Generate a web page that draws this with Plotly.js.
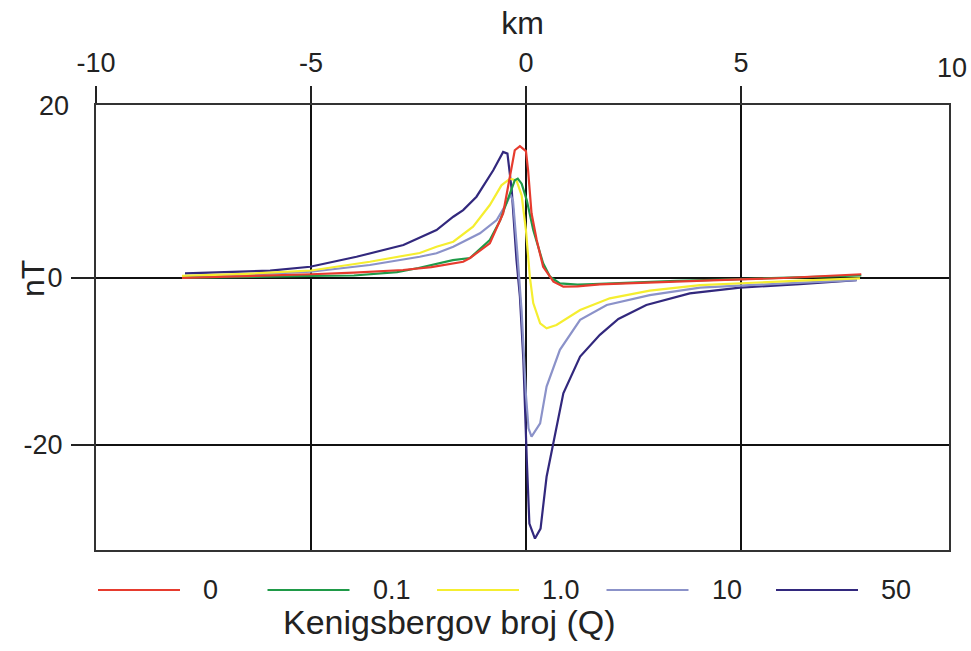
<!DOCTYPE html>
<html>
<head>
<meta charset="utf-8">
<script src="https://cdn.plot.ly/plotly-3.0.1.min.js"></script>
<style>html,body{margin:0;padding:0;background:#fff;}#chart{width:971px;height:651px;}</style>
</head>
<body>
<div id="chart"></div>
<script>
// Series: Kenigsbergov broj (Q)
const seriesNames = ['0', '0.1', '1.0', '10', '50'];
const seriesColors = ['#e63b2e', '#1f9a48', '#f5ee30', '#8b92c9', '#32287d'];

const xQ0 = [-8.0, -6.5, -5.0, -4.0, -2.86, -2.2, -1.93, -1.46, -1.3, -0.84, -0.53, -0.37, -0.26, -0.14, 0.0, 0.05, 0.13, 0.25, 0.40, 0.64, 0.87, 1.2, 1.72, 2.5, 3.5, 4.8, 6.0, 7.0, 7.8];
const yQ0 = [0.0, 0.2, 0.45, 0.65, 0.96, 1.3, 1.56, 1.95, 2.4, 4.15, 7.75, 12.5, 15.3, 15.8, 15.2, 12.9, 7.75, 4.55, 1.35, -0.44, -1.04, -1.0, -0.75, -0.6, -0.4, -0.2, 0.0, 0.25, 0.45];

const xQ01 = [-8.0, -6.5, -5.0, -4.0, -3.0, -2.5, -1.7, -1.3, -0.84, -0.6, -0.41, -0.26, -0.19, -0.1, 0.02, 0.17, 0.40, 0.56, 0.79, 1.2, 1.57, 2.5, 3.5, 4.8, 6.0, 7.0, 7.8];
const yQ01 = [0.0, 0.15, 0.25, 0.3, 0.7, 1.2, 2.15, 2.4, 4.55, 6.9, 9.7, 11.7, 11.9, 11.3, 9.3, 5.75, 1.76, 0.16, -0.64, -0.8, -0.72, -0.5, -0.35, -0.15, 0.0, 0.15, 0.3];

const xQ1 = [-8.0, -6.5, -5.0, -3.63, -2.47, -2.08, -1.69, -1.23, -0.84, -0.57, -0.37, -0.22, -0.1, 0.0, 0.09, 0.17, 0.33, 0.48, 0.71, 1.26, 1.95, 2.88, 4.05, 5.2, 6.37, 7.77];
const yQ1 = [0.25, 0.5, 0.9, 1.95, 3.0, 3.75, 4.35, 6.15, 8.74, 11.1, 11.9, 11.7, 9.9, 5.75, 0.16, -3.0, -5.43, -6.03, -5.63, -3.83, -2.43, -1.5, -0.84, -0.55, -0.32, -0.04];

const xQ10 = [-8.0, -6.5, -5.0, -3.63, -2.47, -2.08, -1.69, -1.30, -1.07, -0.68, -0.45, -0.36, -0.3, -0.2, -0.1, 0.0, 0.06, 0.13, 0.22, 0.33, 0.48, 0.79, 1.26, 1.88, 2.88, 4.05, 6.06, 7.69];
const yQ10 = [0.2, 0.4, 0.75, 1.56, 2.55, 2.96, 3.75, 4.75, 5.35, 6.95, 8.95, 10.0, 9.2, 3.0, -4.0, -14.0, -18.0, -19.0, -18.2, -17.4, -13.0, -8.6, -5.0, -3.23, -2.04, -1.14, -0.64, -0.24];

const xQ50 = [-7.93, -5.95, -5.02, -3.94, -2.85, -2.47, -2.08, -1.69, -1.46, -1.15, -0.76, -0.53, -0.43, -0.33, -0.22, -0.14, -0.06, 0.02, 0.08, 0.21, 0.34, 0.48, 0.87, 1.26, 1.72, 2.15, 2.8, 3.81, 4.98, 6.37, 7.69];
const yQ50 = [0.56, 0.88, 1.35, 2.55, 3.95, 4.85, 5.75, 7.34, 8.14, 9.74, 12.9, 15.1, 14.9, 10.5, 2.16, -2.24, -9.8, -21.8, -29.4, -31.2, -30.0, -23.8, -13.8, -9.4, -6.8, -4.9, -3.23, -1.84, -1.16, -0.72, -0.24];

const xTickVals = [-10, -5, 0, 5];
const xTickText = ['-10', '-5', '0', '5'];
const yTickVals = [-20, 0];
const yTickText = ['-20', '0'];
const xs = [xQ0, xQ01, xQ1, xQ10, xQ50];
const ys = [yQ0, yQ01, yQ1, yQ10, yQ50];

const FONT = '"Liberation Sans Narrow", "Arial Narrow", "Liberation Sans", Arial, sans-serif';

// draw order: 50 first, red on top
const order = [4, 3, 2, 1, 0];
const traces = order.map(i => ({
  type: 'scatter', mode: 'lines', name: seriesNames[i],
  x: xs[i], y: ys[i],
  line: {color: seriesColors[i], width: 2.2},
  showlegend: false, hoverinfo: 'skip'
}));

// custom legend (long line samples) below the plot
const plotL = 96, plotW = 853, plotT = 105, plotH = 445;
const px2paperX = p => (p - plotL) / plotW;
const px2paperY = p => (plotT + plotH - p) / plotH;
const shapes = [];
const annotations = [];
seriesNames.forEach((n, i) => {
  const x0 = 98 + i * 169.5;
  shapes.push({type: 'line', xref: 'paper', yref: 'paper',
    x0: px2paperX(x0), x1: px2paperX(x0 + 82), y0: px2paperY(590), y1: px2paperY(590),
    line: {color: seriesColors[i], width: 2.2}});
  annotations.push({xref: 'paper', yref: 'paper', x: px2paperX(x0 + 103), y: px2paperY(590),
    xanchor: 'left', yanchor: 'middle', showarrow: false, text: n,
    font: {family: FONT, size: 27, color: '#222'}});
});
annotations.push({xref: 'paper', yref: 'paper', x: px2paperX(449), y: px2paperY(622),
  xanchor: 'center', yanchor: 'middle', showarrow: false, text: 'Kenigsbergov broj (Q)',
  font: {family: FONT, size: 34, color: '#222'}});
// right-most top label, top-left y label, y title
annotations.push({xref: 'paper', yref: 'paper', x: px2paperX(952), y: px2paperY(68),
  xanchor: 'center', yanchor: 'middle', showarrow: false, text: '10',
  font: {family: FONT, size: 27, color: '#222'}});
annotations.push({xref: 'paper', yref: 'paper', x: px2paperX(71), y: px2paperY(106),
  xanchor: 'right', yanchor: 'middle', showarrow: false, text: '20',
  font: {family: FONT, size: 27, color: '#222'}});
annotations.push({xref: 'paper', yref: 'paper', x: px2paperX(33), y: px2paperY(279),
  xanchor: 'center', yanchor: 'middle', showarrow: false, text: 'nT', textangle: -90,
  font: {family: FONT, size: 32, color: '#222'}});

const layout = {
  width: 971, height: 651,
  margin: {l: 96, r: 22, t: 105, b: 101},
  paper_bgcolor: '#fff', plot_bgcolor: '#fff',
  showlegend: false,
  font: {family: FONT, color: '#222'},
  xaxis: {
    side: 'top', range: [-10, 9.84], tickvals: xTickVals, ticktext: xTickText,
    ticks: 'outside', ticklen: 17, tickwidth: 2, tickcolor: '#222',
    ticklabelstandoff: 3,
    tickfont: {family: FONT, size: 27, color: '#222'},
    showgrid: true, gridcolor: '#111', gridwidth: 2, zeroline: false,
    showline: true, mirror: true, linecolor: '#333', linewidth: 2,
    title: {text: 'km', font: {family: FONT, size: 32, color: '#222'}, standoff: 4}
  },
  yaxis: {
    range: [-32.57, 20.72], tickvals: yTickVals, ticktext: yTickText,
    ticks: 'outside', ticklen: 23, tickwidth: 2, tickcolor: '#222',
    ticklabelstandoff: 3,
    tickfont: {family: FONT, size: 27, color: '#222'},
    showgrid: true, gridcolor: '#111', gridwidth: 2, zeroline: false,
    showline: true, mirror: true, linecolor: '#333', linewidth: 2
  },
  shapes: shapes,
  annotations: annotations
};

Plotly.newPlot('chart', traces, layout, {displayModeBar: false, staticPlot: true});
</script>
</body>
</html>
